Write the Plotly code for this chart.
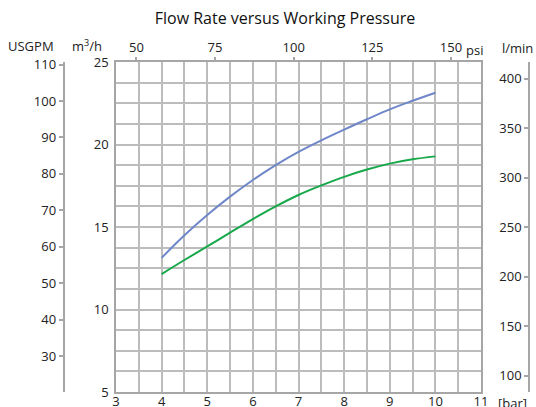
import plotly.graph_objects as go

# pressure in bar and flow rate in m3/h
pressure_bar = [4, 4.5, 5, 5.5, 6, 6.5, 7, 7.5, 8, 8.5, 9, 9.5, 10]
flow_blue = [13.13, 14.5, 15.73, 16.84, 17.85, 18.75, 19.55, 20.25, 20.9, 21.53, 22.13, 22.65, 23.14]
flow_green = [12.15, 13.0, 13.82, 14.66, 15.48, 16.25, 16.94, 17.52, 18.04, 18.48, 18.84, 19.1, 19.28]

bar_ticks = [3, 4, 5, 6, 7, 8, 9, 10, 11]
psi_ticks = [50, 75, 100, 125, 150]
m3h_ticks = [5, 10, 15, 20, 25]
usgpm_ticks = [30, 40, 50, 60, 70, 80, 90, 100, 110]
lmin_ticks = [100, 150, 200, 250, 300, 350, 400]

PSI_PER_BAR = 14.5038
W, H = 536, 407
FONT = "Open Sans"
GRID = "#bcbcbc"
LINE = "#a6a6a6"
TXT = "#222222"

fig = go.Figure()

fig.add_trace(go.Scatter(x=pressure_bar, y=flow_blue, mode='lines', line=dict(color='#6f87c9', width=2, shape='spline'), showlegend=False))
fig.add_trace(go.Scatter(x=pressure_bar, y=flow_green, mode='lines', line=dict(color='#17a84a', width=2, shape='spline'), showlegend=False))

# empty traces so the extra axes get drawn
fig.add_trace(go.Scatter(x=[None], y=[None], xaxis='x2', yaxis='y', showlegend=False, hoverinfo='skip'))
fig.add_trace(go.Scatter(x=[None], y=[None], xaxis='x', yaxis='y3', showlegend=False, hoverinfo='skip'))
fig.add_trace(go.Scatter(x=[None], y=[None], xaxis='x', yaxis='y4', showlegend=False, hoverinfo='skip'))

x0, x1 = 116 / W, 481 / W

fig.update_layout(
    width=W, height=H, autosize=False,
    margin=dict(l=0, r=0, t=62, b=15, autoexpand=False),
    paper_bgcolor='white', plot_bgcolor='white',
    font=dict(family=FONT, size=13, color=TXT),
    title=dict(text="Flow Rate versus Working Pressure", x=285 / W, xanchor='center', y=1 - 18 / H, yanchor='middle',
               font=dict(family=FONT, size=16, color='#111111')),
    xaxis=dict(domain=[x0, x1], range=[3, 11], tickvals=bar_ticks, ticktext=[str(t) for t in bar_ticks],
               showgrid=True, gridcolor=GRID, gridwidth=1.5,
               minor=dict(tick0=3, dtick=0.5, showgrid=True, gridcolor=GRID, gridwidth=1.5),
               showline=True, linecolor=LINE, linewidth=1.5, mirror=True, zeroline=False, ticks='',
               automargin=False, ticklabelstandoff=-3),
    xaxis2=dict(overlaying='x', side='top', anchor='y', range=[3 * PSI_PER_BAR, 11 * PSI_PER_BAR],
                tickvals=psi_ticks, ticktext=[str(t) for t in psi_ticks], showgrid=False, zeroline=False,
                ticks='outside', ticklen=4, tickcolor=LINE, tickwidth=1.5, automargin=False),
    yaxis=dict(range=[5, 25], tickvals=m3h_ticks, showgrid=True, gridcolor=GRID, gridwidth=1.5,
               minor=dict(tick0=5, dtick=1.25, showgrid=True, gridcolor=GRID, gridwidth=1.5),
               showline=True, linecolor=LINE, linewidth=1.5, mirror=True, zeroline=False,
               ticks='outside', ticklen=3, tickcolor='rgba(0,0,0,0)', automargin=False),
    yaxis3=dict(overlaying='y', anchor='free', position=63.5 / W, side='left', range=[20.1, 110.7],
                tickvals=usgpm_ticks, showgrid=False, zeroline=False, showline=True, linecolor=LINE, linewidth=1.5,
                ticks='outside', ticklen=4, tickcolor=LINE, tickwidth=1.5, automargin=False),
    yaxis4=dict(overlaying='y', anchor='free', position=529 / W, side='left',
                range=[5 * 1000 / 60, 25 * 1000 / 60], tickvals=lmin_ticks, showgrid=False, zeroline=False,
                showline=True, linecolor=LINE, linewidth=1.5, ticks='outside', ticklen=4, tickcolor=LINE,
                tickwidth=1.5, automargin=False),
)

def py(pix):
    # pixel row -> paper y
    return 1 - (pix - 62) / (H - 62 - 15)

fig.add_annotation(text="USGPM", x=31 / W, y=py(46), xref='paper', yref='paper', showarrow=False, xanchor='center', yanchor='middle')
fig.add_annotation(text="m<sup>3</sup>/h", x=87 / W, y=py(45), xref='paper', yref='paper', showarrow=False, xanchor='center', yanchor='middle')
fig.add_annotation(text="l/min", x=535 / W, y=py(48), xref='paper', yref='paper', showarrow=False, xanchor='right', yanchor='middle')
fig.add_annotation(text="psi", x=464 / W, y=py(50), xref='paper', yref='paper', showarrow=False, xanchor='left', yanchor='middle')
fig.add_annotation(text="[bar]", x=496 / W, y=py(403), xref='paper', yref='paper', showarrow=False, xanchor='left', yanchor='middle')

# the page has a default body margin, drop it so the figure sits at 0,0
fig.write_html("out.html", config={'displayModeBar': False}, post_script="document.body.style.margin='0';")
